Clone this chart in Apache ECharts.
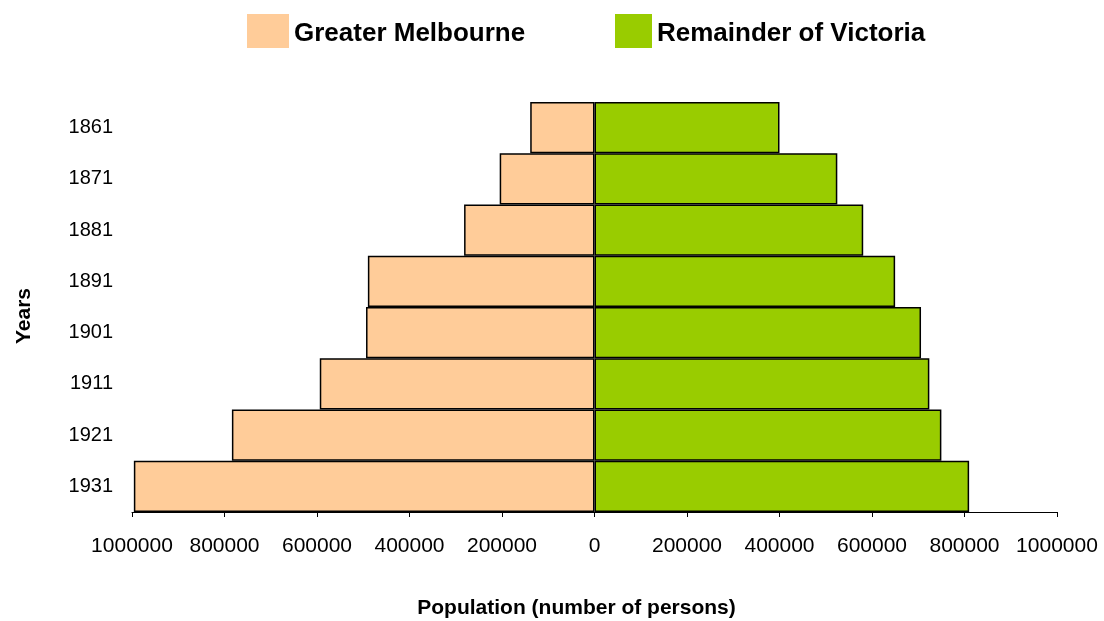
<!DOCTYPE html>
<html>
<head>
<meta charset="utf-8">
<script src="https://cdn.jsdelivr.net/npm/echarts@6/dist/echarts.min.js"></script>
<style>
  html, body { margin: 0; padding: 0; background: #fff; }
  #chart { width: 1104px; height: 621px; }
</style>
</head>
<body>
<div id="chart"></div>
<script>
// census years, top to bottom
const years = ['1861', '1871', '1881', '1891', '1901', '1911', '1921', '1931'];
// population, persons
const greaterMelbourne = [139000, 205000, 282000, 490000, 494000, 594000, 784000, 996000];
const remainderOfVictoria = [400000, 525000, 581000, 650000, 706000, 724000, 750000, 810000];
// x axis range / step
const xMin = -1000000;
const xMax = 1000000;
const xStep = 200000;

const chart = echarts.init(document.getElementById('chart'));

const font = 'Arial, "Liberation Sans", sans-serif';
const legendText = {
    fontFamily: font, fontWeight: 'bold', fontSize: 26, color: '#000',
    rich: { t: { fontFamily: font, fontWeight: 'bold', fontSize: 26, color: '#000', padding: [5, 0, 0, 0] } }
};

const option = {
    animation: false,
    backgroundColor: '#fff',
    legend: [{
        data: ['Greater Melbourne'],
        left: 247,
        top: 14,
        padding: 0,
        icon: 'rect',
        itemWidth: 42,
        itemHeight: 34,
        itemStyle: { borderWidth: 0 },
        formatter: '{t|{name}}',
        textStyle: legendText
    }, {
        data: ['Remainder of Victoria'],
        left: 615,
        top: 14,
        padding: 0,
        icon: 'rect',
        itemWidth: 37,
        itemHeight: 34,
        itemStyle: { borderWidth: 0 },
        formatter: '{t|{name}}',
        textStyle: legendText
    }],
    grid: {
        left: 132,
        right: 47,
        top: 102,
        bottom: 109,
        outerBoundsMode: 'none'
    },
    xAxis: {
        type: 'value',
        min: xMin,
        max: xMax,
        interval: xStep,
        name: 'Population (number of persons)',
        nameLocation: 'middle',
        nameGap: 86,
        nameTextStyle: {
            fontFamily: font, fontWeight: 'bold', fontSize: 21, color: '#000',
            padding: [0, 36, 0, 0]
        },
        axisLine: { show: true, lineStyle: { color: '#000', width: 1 } },
        axisTick: { show: true, length: 5, lineStyle: { color: '#000' } },
        splitLine: { show: false },
        axisLabel: {
            fontFamily: font, fontSize: 21, color: '#000', margin: 24,
            formatter: (v) => String(Math.abs(v))
        }
    },
    yAxis: {
        type: 'category',
        data: years,
        inverse: true,
        name: 'Years',
        nameLocation: 'middle',
        nameGap: 97,
        nameRotate: 90,
        nameTextStyle: {
            fontFamily: font, fontWeight: 'bold', fontSize: 21, color: '#000',
            padding: [0, 18, 0, 0]
        },
        axisLine: { show: false },
        axisTick: { show: false },
        axisLabel: { fontFamily: font, fontSize: 20, color: '#000', margin: 19 }
    },
    series: [{
        name: 'Greater Melbourne',
        type: 'bar',
        stack: 'pop',
        barCategoryGap: '0%',
        data: greaterMelbourne.map(v => -v),
        itemStyle: { color: '#FFCC99', borderColor: '#000', borderWidth: 1.5 }
    }, {
        name: 'Remainder of Victoria',
        type: 'bar',
        stack: 'pop',
        barCategoryGap: '0%',
        data: remainderOfVictoria,
        itemStyle: { color: '#99CC00', borderColor: '#000', borderWidth: 1.5 }
    }]
};

chart.setOption(option);
</script>
</body>
</html>
